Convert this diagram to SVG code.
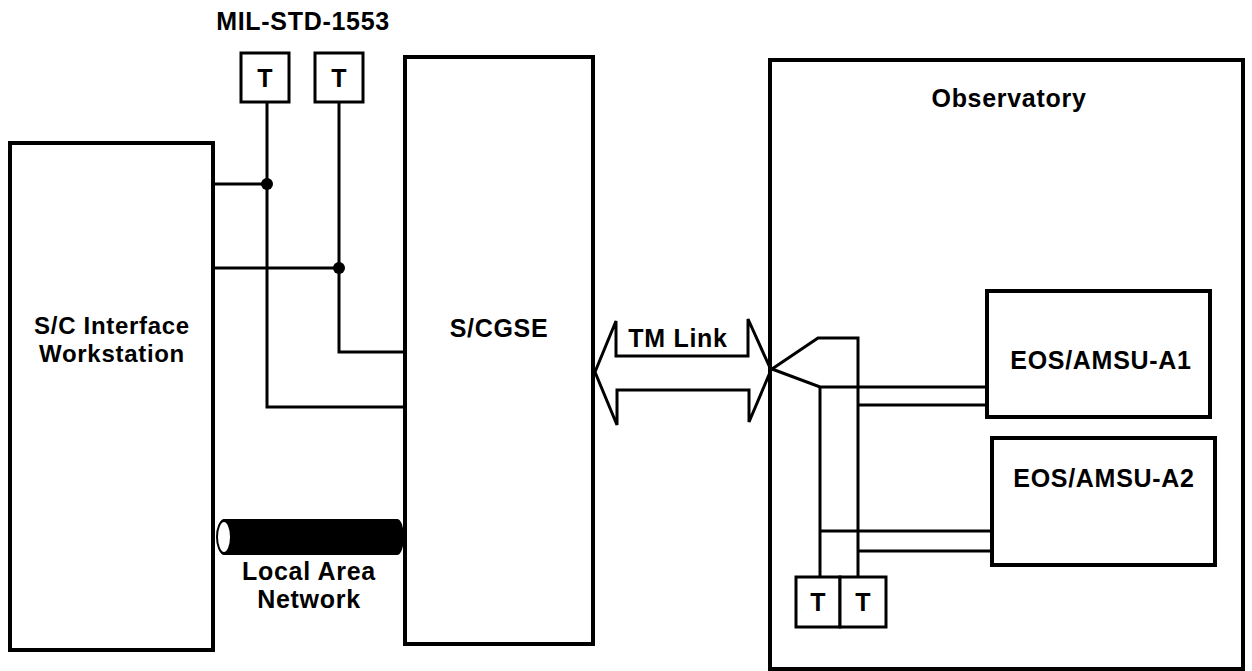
<svg xmlns="http://www.w3.org/2000/svg" width="1252" height="671" viewBox="0 0 1252 671">
<style>
.box{fill:#fff;stroke:#000;stroke-width:4}
.tbox{fill:#fff;stroke:#000;stroke-width:3}
.ln{fill:none;stroke:#000;stroke-width:3;stroke-linejoin:miter}
.lbl{font-family:"Liberation Sans",Arial,Helvetica,sans-serif;font-weight:bold;font-size:25px;letter-spacing:0.7px;fill:#000;text-anchor:middle}
.t{font-family:"Liberation Sans",Arial,Helvetica,sans-serif;font-weight:bold;font-size:25px;fill:#000;text-anchor:middle}
</style>
<rect width="1252" height="671" fill="#fff"/>
<g id="observatory">
<rect class="box" x="770" y="60" width="473" height="609"/>
<text class="lbl" x="1009" y="107">Observatory</text>
</g>
<g id="connectors">
<polyline class="ln" points="213,184 267,184"/>
<polyline class="ln" points="267,102 267,407 405,407"/>
<polyline class="ln" points="213,268 339,268"/>
<polyline class="ln" points="339,102 339,352 405,352"/>
<circle cx="267" cy="184" r="6" fill="#000"/>
<circle cx="339" cy="268" r="6" fill="#000"/>
<path class="ln" d="M595,372 L616,321 V356 H748 V319 L771,370 L749,422 V390 H617 V425 Z" fill="#fff"/>
<polyline class="ln" points="772,369 818,338 858,338 858,578"/>
<polyline class="ln" points="772,369 820,387 987,387"/>
<polyline class="ln" points="820,387 820,578"/>
<polyline class="ln" points="858,405 987,405"/>
<polyline class="ln" points="820,531 992,531"/>
<polyline class="ln" points="858,551 992,551"/>
<path d="M224,519 H397 A7,18 0 0 1 397,555 H224 A7,18 0 0 1 224,519 Z" fill="#000"/>
<ellipse cx="224" cy="537" rx="7" ry="16" fill="#fff" stroke="#000" stroke-width="2"/>
</g>
<g id="workstation">
<rect class="box" x="10" y="143" width="203" height="507"/>
<text class="lbl" x="112" y="334" style="font-size:24px">S/C Interface</text>
<text class="lbl" x="112" y="362" style="font-size:24px">Workstation</text>
</g>
<g id="scgse">
<rect class="box" x="405" y="57" width="188" height="587"/>
<text class="lbl" x="499" y="337">S/CGSE</text>
</g>
<g id="t1">
<rect class="tbox" x="241" y="53" width="48" height="49"/>
<text class="t" x="265" y="87">T</text>
</g>
<g id="t2">
<rect class="tbox" x="315" y="53" width="48" height="49"/>
<text class="t" x="339" y="87">T</text>
</g>
<g id="t3">
<rect class="tbox" x="796" y="577" width="44" height="50"/>
<text class="t" x="818" y="611">T</text>
</g>
<g id="t4">
<rect class="tbox" x="840" y="577" width="46" height="50"/>
<text class="t" x="863" y="611">T</text>
</g>
<g id="amsu-a1">
<rect class="box" x="987" y="291" width="223" height="126"/>
<text class="lbl" x="1101" y="369">EOS/AMSU-A1</text>
</g>
<g id="amsu-a2">
<rect class="box" x="992" y="438" width="223" height="127"/>
<text class="lbl" x="1104" y="487">EOS/AMSU-A2</text>
</g>
<text class="lbl" x="303" y="30">MIL-STD-1553</text>
<text class="lbl" x="678" y="347">TM Link</text>
<text class="lbl" x="309" y="580">Local Area</text>
<text class="lbl" x="309" y="608">Network</text>
</svg>
